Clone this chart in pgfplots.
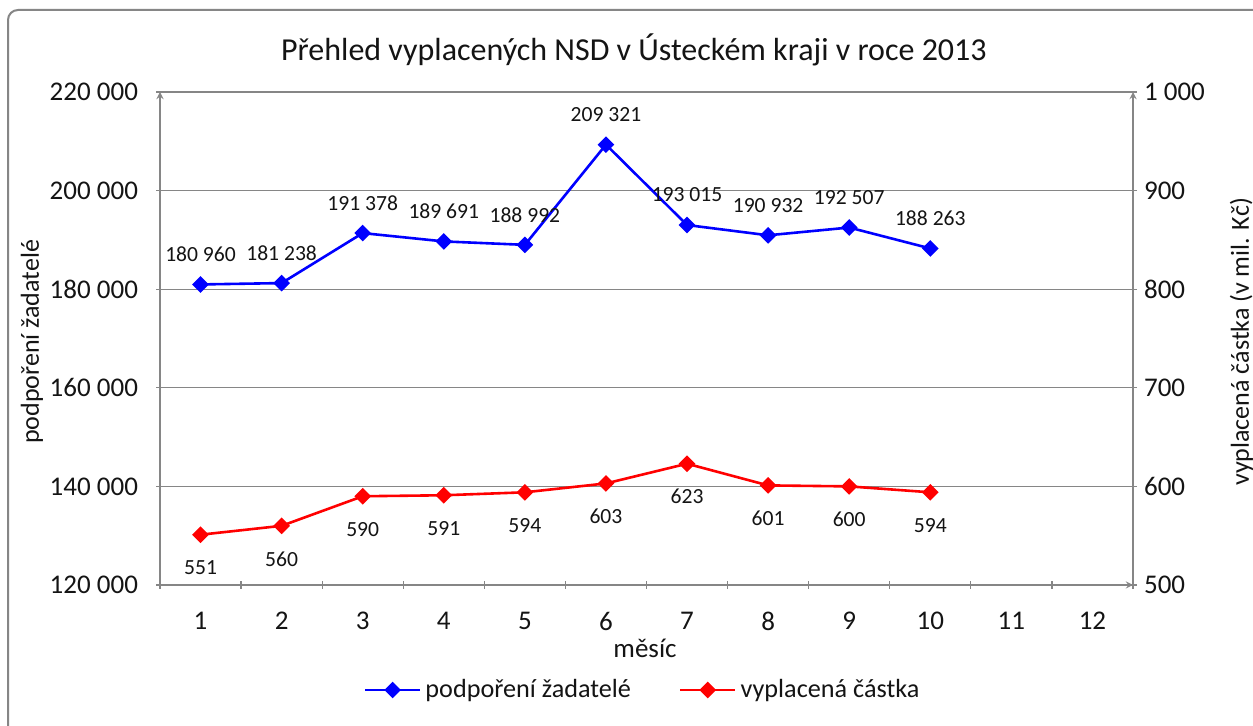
\documentclass[border=0pt]{standalone}
\usepackage{fontspec}
\setmainfont{Carlito}
\usepackage{pgfplots}
\pgfplotsset{compat=1.18}
\definecolor{axgray}{RGB}{134,134,134}
\definecolor{txt}{RGB}{20,20,20}
\newcommand{\tickfont}{\fontsize{13.5}{15}\selectfont}
\newcommand{\labfont}{\fontsize{13}{15}\selectfont}
\newcommand{\legfont}{\fontsize{13.1}{15}\selectfont}
\newcommand{\datafont}{\fontsize{10.8}{12}\selectfont}
\pgfplotsset{
  /pgf/number format/.cd, assume math mode=true, fixed, precision=0, 1000 sep={\ },
  /pgfplots/.cd,
  common/.style={
    at={(80pt,70.5pt)}, anchor=south west,
    scale only axis, width=486.5pt, height=246.5pt,
    xmin=0.5, xmax=12.5,
    axis line style={-, axgray, line width=0.6pt},
    x axis line style={-}, y axis line style={-},
    tick align=outside,
    major tick length=4pt, minor tick length=4pt,
    tick style={axgray, line width=0.6pt},
    tick label style={font=\tickfont, text=txt},
    scaled y ticks=false,
    clip=false,
  },
  mk/.style={line width=1.3pt, mark=square*, mark size=2.3pt, mark options={rotate=45, solid}},
}
\begin{document}
\begin{tikzpicture}[x=1pt,y=1pt]
\useasboundingbox (0,0) rectangle (626.5,363);
\fill[white] (0,0) rectangle (626.5,363);
\draw[axgray, line width=1pt, rounded corners=5pt] (4,-10) rectangle (640,358);
\begin{axis}[
  common,
  axis x line=bottom, axis y line=left,
  ymin=120000, ymax=220000,
  ytick={120000,140000,160000,180000,200000,220000},
  yticklabel style={xshift=-5.5pt},
  xtick={1,2,3,4,5,6,7,8,9,10,11,12},
  minor xtick={0.5,1.5,2.5,3.5,4.5,5.5,6.5,7.5,8.5,9.5,10.5,11.5,12.5},
  major x tick style={draw=none},
  ymajorgrids, grid style={axgray, line width=0.6pt},
  xticklabel style={yshift=-8pt},
  every axis title shift=0pt,
  title={Přehled vyplacených NSD v Ústeckém kraji v roce 2013},
  title style={at={(axis description cs:0.487,1.085)}, anchor=center, font=\fontsize{16}{18}\selectfont, text=txt},
  xlabel={měsíc},
  xlabel style={at={(axis description cs:0.4985,-0.128)}, anchor=center, font=\tickfont, text=txt},
  ylabel={podpoření žadatelé},
  ylabel style={at={(axis description cs:-0.1316,0.493)}, anchor=center, rotate=0, font=\labfont, text=txt},
]
\addplot[blue, mk, nodes near coords,
  every node near coord/.append style={anchor=center, yshift=15pt, font=\datafont, text=txt}]
  coordinates {(1,180960) (2,181238) (3,191378) (4,189691) (5,188992) (6,209321) (7,193015) (8,190932) (9,192507) (10,188263)};
\end{axis}
\begin{axis}[
  common,
  axis x line=none, axis y line=right,
  ymin=500, ymax=1000,
  ytick={500,600,700,800,900,1000},
  xtick=\empty,
  ylabel={vyplacená částka (v mil. Kč)},
  ylabel style={at={(axis description cs:1.1115,0.493)}, anchor=center, rotate=0, font=\labfont, text=txt},
  legend style={at={(axis description cs:0.497,-0.213)}, anchor=center, draw=none, fill=none,
    legend columns=2, font=\legfont, text=txt,
    /tikz/every even column/.append style={column sep=22pt}},
  legend cell align=left,
  legend image code/.code={\draw[mark repeat=2, mark phase=2, #1] plot coordinates {(0pt,0pt) (13.75pt,0pt) (27.5pt,0pt)};},
]
\addlegendimage{blue, mk}
\addlegendentry{podpoření žadatelé}
\addplot[red, mk, nodes near coords,
  every node near coord/.append style={anchor=center, yshift=-16.5pt, font=\datafont, text=txt}]
  coordinates {(1,551) (2,560) (3,590) (4,591) (5,594) (6,603) (7,623) (8,601) (9,600) (10,594)};
\addlegendentry{vyplacená částka}
\end{axis}
\end{tikzpicture}
\end{document}
